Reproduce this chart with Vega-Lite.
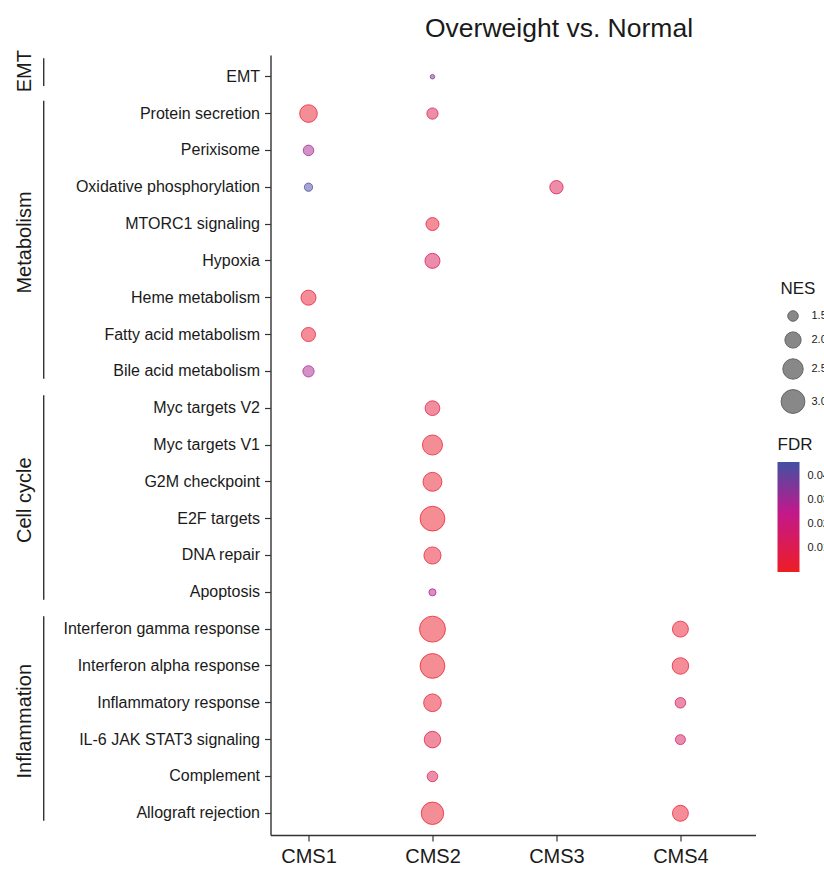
{
  "$schema": "https://vega.github.io/schema/vega-lite/v6.json",
  "padding": {"left": 0, "top": 15, "right": 0, "bottom": 0},
  "spacing": 12.5,
  "datasets": {
    "points": [
      {"term": "EMT", "cms": "CMS2", "NES": 1.2, "FDR": 0.036},
      {"term": "Protein secretion", "cms": "CMS1", "NES": 2.16, "FDR": 0.002},
      {"term": "Protein secretion", "cms": "CMS2", "NES": 1.55, "FDR": 0.011},
      {"term": "Perixisome", "cms": "CMS1", "NES": 1.5, "FDR": 0.03},
      {"term": "Oxidative phosphorylation", "cms": "CMS1", "NES": 1.36, "FDR": 0.044},
      {"term": "Oxidative phosphorylation", "cms": "CMS3", "NES": 1.72, "FDR": 0.011},
      {"term": "MTORC1 signaling", "cms": "CMS2", "NES": 1.69, "FDR": 0.004},
      {"term": "Hypoxia", "cms": "CMS2", "NES": 1.88, "FDR": 0.013},
      {"term": "Heme metabolism", "cms": "CMS1", "NES": 1.88, "FDR": 0.003},
      {"term": "Fatty acid metabolism", "cms": "CMS1", "NES": 1.79, "FDR": 0.003},
      {"term": "Bile acid metabolism", "cms": "CMS1", "NES": 1.55, "FDR": 0.029},
      {"term": "Myc targets V2", "cms": "CMS2", "NES": 1.85, "FDR": 0.006},
      {"term": "Myc targets V1", "cms": "CMS2", "NES": 2.46, "FDR": 0.002},
      {"term": "G2M checkpoint", "cms": "CMS2", "NES": 2.31, "FDR": 0.002},
      {"term": "E2F targets", "cms": "CMS2", "NES": 3.15, "FDR": 0.001},
      {"term": "DNA repair", "cms": "CMS2", "NES": 2.1, "FDR": 0.003},
      {"term": "Apoptosis", "cms": "CMS2", "NES": 1.3, "FDR": 0.027},
      {"term": "Interferon gamma response", "cms": "CMS2", "NES": 3.35, "FDR": 0.001},
      {"term": "Interferon gamma response", "cms": "CMS4", "NES": 1.97, "FDR": 0.003},
      {"term": "Interferon alpha response", "cms": "CMS2", "NES": 3.15, "FDR": 0.001},
      {"term": "Interferon alpha response", "cms": "CMS4", "NES": 2.03, "FDR": 0.003},
      {"term": "Inflammatory response", "cms": "CMS2", "NES": 2.16, "FDR": 0.003},
      {"term": "Inflammatory response", "cms": "CMS4", "NES": 1.5, "FDR": 0.013},
      {"term": "IL-6 JAK STAT3 signaling", "cms": "CMS2", "NES": 2.03, "FDR": 0.007},
      {"term": "IL-6 JAK STAT3 signaling", "cms": "CMS4", "NES": 1.46, "FDR": 0.014},
      {"term": "Complement", "cms": "CMS2", "NES": 1.5, "FDR": 0.012},
      {"term": "Allograft rejection", "cms": "CMS2", "NES": 2.79, "FDR": 0.002},
      {"term": "Allograft rejection", "cms": "CMS4", "NES": 1.97, "FDR": 0.003}
    ],
    "groups": [
      {"group": "EMT", "first": "EMT", "last": "EMT", "mid": "EMT"},
      {"group": "Metabolism", "first": "Protein secretion", "last": "Bile acid metabolism", "mid": "Hypoxia"},
      {"group": "Cell cycle", "first": "Myc targets V2", "last": "Apoptosis", "mid": "E2F targets"},
      {"group": "Inflammation", "first": "Interferon gamma response", "last": "Allograft rejection", "mid": "IL-6 JAK STAT3 signaling"}
    ]
  },
  "hconcat": [
    {
      "width": 50,
      "height": 780,
      "data": {"name": "groups"},
      "layer": [
        {
          "transform": [{"filter": "datum.group !== 'EMT'"}],
          "mark": {"type": "rule", "color": "#222222", "strokeWidth": 1.3},
          "encoding": {
            "x": {"datum": "line", "type": "nominal", "scale": {"type": "point", "domain": ["label", "line"], "padding": 0.837, "align": 0.8}, "axis": null},
            "y": {"field": "first", "type": "nominal", "bandPosition": 0.15, "scale": {"type": "band", "domain": ["EMT", "Protein secretion", "Perixisome", "Oxidative phosphorylation", "MTORC1 signaling", "Hypoxia", "Heme metabolism", "Fatty acid metabolism", "Bile acid metabolism", "Myc targets V2", "Myc targets V1", "G2M checkpoint", "E2F targets", "DNA repair", "Apoptosis", "Interferon gamma response", "Interferon alpha response", "Inflammatory response", "IL-6 JAK STAT3 signaling", "Complement", "Allograft rejection"], "paddingInner": 0, "paddingOuter": 0.09}, "axis": null},
            "y2": {"field": "last", "bandPosition": 0.7}
          }
        },
        {
          "transform": [{"filter": "datum.group === 'EMT'"}],
          "mark": {"type": "rule", "color": "#222222", "strokeWidth": 1.3},
          "encoding": {
            "x": {"datum": "line", "type": "nominal", "axis": null},
            "y": {"field": "first", "type": "nominal", "bandPosition": 0, "axis": null},
            "y2": {"field": "last", "bandPosition": 0.75}
          }
        },
        {
          "transform": [{"filter": "datum.group !== 'EMT'"}],
          "mark": {"type": "text", "angle": 270, "fontSize": 20, "font": "Liberation Sans", "color": "#1a1a1a", "align": "center", "baseline": "middle"},
          "encoding": {
            "x": {"datum": "label", "type": "nominal", "axis": null},
            "y": {"field": "mid", "type": "nominal", "bandPosition": 0, "axis": null},
            "text": {"field": "group"}
          }
        },
        {
          "transform": [{"filter": "datum.group === 'EMT'"}],
          "mark": {"type": "text", "angle": 270, "fontSize": 20, "font": "Liberation Sans", "color": "#1a1a1a", "align": "center", "baseline": "middle"},
          "encoding": {
            "x": {"datum": "label", "type": "nominal", "axis": null},
            "y": {"field": "mid", "type": "nominal", "bandPosition": 0.35, "axis": null},
            "text": {"field": "group"}
          }
        }
      ]
    },
    {
      "width": 485,
      "height": 780,
      "data": {"name": "points"},
      "title": {"text": "Overweight vs. Normal", "fontSize": 26.5, "font": "Liberation Sans", "fontWeight": "normal", "color": "#1a1a1a", "anchor": "middle", "frame": "group", "dx": 46, "offset": 13},
      "encoding": {
        "x": {"field": "cms", "type": "nominal", "title": null, "scale": {"type": "point", "domain": ["CMS1", "CMS2", "CMS3", "CMS4"], "padding": 0.456, "align": 0.336}, "axis": {"labelAngle": 0, "labelFontSize": 20, "tickSize": 6, "labelPadding": 5}},
        "y": {"field": "term", "type": "nominal", "title": null, "scale": {"type": "band", "domain": ["EMT", "Protein secretion", "Perixisome", "Oxidative phosphorylation", "MTORC1 signaling", "Hypoxia", "Heme metabolism", "Fatty acid metabolism", "Bile acid metabolism", "Myc targets V2", "Myc targets V1", "G2M checkpoint", "E2F targets", "DNA repair", "Apoptosis", "Interferon gamma response", "Interferon alpha response", "Inflammatory response", "IL-6 JAK STAT3 signaling", "Complement", "Allograft rejection"], "paddingInner": 0, "paddingOuter": 0.09}, "axis": {"labelFontSize": 16, "tickSize": 6, "labelPadding": 5, "labelLimit": 400}}
      },
      "resolve": {"legend": {"color": "independent", "size": "independent"}},
      "layer": [
        {
          "mark": {"type": "circle", "opacity": 1, "fillOpacity": 0.5, "strokeWidth": 0},
          "encoding": {
            "size": {"field": "NES", "type": "quantitative", "title": "NES", "scale": {"zero": false, "domain": [1.15, 3.4], "range": [5, 690]}, "legend": {"orient": "none", "legendX": 510, "legendY": 226, "values": [1.5, 2, 2.5, 3], "format": ".1f", "symbolFillColor": "#888888", "symbolStrokeColor": "#666666", "symbolStrokeWidth": 1, "symbolOpacity": 1, "rowPadding": 5, "titlePadding": 12, "labelOffset": 6}},
            "color": {"field": "FDR", "type": "quantitative", "title": "FDR", "scale": {"domain": [0, 0.025, 0.046], "range": ["#EE1D25", "#C2188C", "#4051A3"], "interpolate": "rgb"}, "legend": {"orient": "none", "legendX": 507, "legendY": 382, "values": [0.01, 0.02, 0.03, 0.04], "format": ".2f", "gradientLength": 110, "gradientThickness": 22, "labelOffset": 8}}
          }
        },
        {
          "mark": {"type": "point", "filled": false, "opacity": 1, "strokeOpacity": 0.75, "strokeWidth": 1},
          "encoding": {
            "size": {"field": "NES", "type": "quantitative", "legend": null},
            "color": {"field": "FDR", "type": "quantitative", "legend": null}
          }
        }
      ]
    }
  ],
  "config": {
    "font": "Liberation Sans",
    "view": {"stroke": null},
    "axis": {"grid": false, "domainColor": "#333333", "domainWidth": 1.4, "tickColor": "#333333", "tickWidth": 1.2, "labelColor": "#1a1a1a", "labelFont": "Liberation Sans"},
    "legend": {"titleFontSize": 17, "titleFontWeight": "normal", "titleColor": "#1a1a1a", "labelFontSize": 11, "labelColor": "#1a1a1a", "titlePadding": 8, "padding": 0}
  }
}
